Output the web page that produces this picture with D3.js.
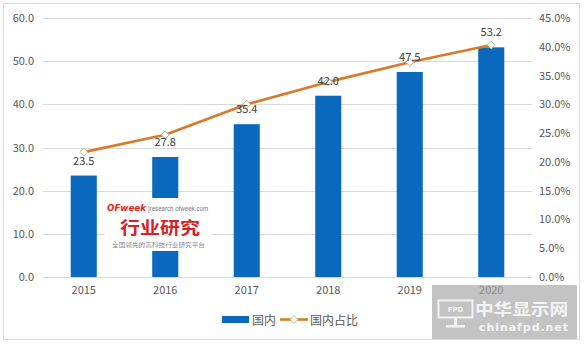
<!DOCTYPE html>
<html><head><meta charset="utf-8">
<script src="https://cdn.jsdelivr.net/npm/d3@7"></script>
<style>
html,body{margin:0;padding:0;background:#fff;}
svg{display:block;font-family:"Noto Sans CJK SC","Noto Sans",sans-serif;}
</style></head>
<body><svg id="c" width="584" height="345"></svg>
<script>
const years = ["2015","2016","2017","2018","2019","2020"];
const domestic = [23.5, 27.8, 35.4, 42.0, 47.5, 53.2];
const domesticShare = [0.217, 0.247, 0.300, 0.339, 0.373, 0.403];
const leftTicks = [0, 10, 20, 30, 40, 50, 60];
const rightTicks = [0, 0.05, 0.10, 0.15, 0.20, 0.25, 0.30, 0.35, 0.40, 0.45];
const seriesNames = ["国内", "国内占比"];

const svg = d3.select("#c");
const W = 584, H = 345;
const plot = {l: 43, r: 532, t: 18, b: 277};
const barColor = "#0b69bd", lineColor = "#d97a28", textColor = "#595959", gridColor = "#d9d9d9";

svg.append("rect").attr("x",0).attr("y",0).attr("width",W).attr("height",H).attr("fill","#fff");
svg.append("rect").attr("x",3.5).attr("y",3.5).attr("width",576).attr("height",336)
  .attr("fill","none").attr("stroke","#d9d9d9");

const x = d3.scaleBand().domain(years).range([plot.l, plot.r]).paddingInner(0.68).paddingOuter(0.34);
const y = d3.scaleLinear().domain([0,60]).range([plot.b, plot.t]);
const y2 = d3.scaleLinear().domain([0,0.45]).range([plot.b, plot.t]);

// gridlines
svg.append("g").selectAll("line").data(leftTicks).join("line")
  .attr("x1",plot.l).attr("x2",plot.r)
  .attr("y1",d=>Math.round(y(d))+0.5).attr("y2",d=>Math.round(y(d))+0.5)
  .attr("stroke",gridColor).attr("stroke-width",1);

// left axis
const la = svg.append("g").attr("transform",`translate(${plot.l},0)`)
  .call(d3.axisLeft(y).tickValues(leftTicks).tickFormat(d3.format(".1f")).tickSize(0).tickPadding(9));
la.select(".domain").remove();
la.selectAll("text").attr("fill",textColor).style("font-size","11px").style("font-family","'Noto Sans CJK SC',sans-serif");

// right axis
const ra = svg.append("g").attr("transform",`translate(${plot.r},0)`)
  .call(d3.axisRight(y2).tickValues(rightTicks).tickFormat(d3.format(".1%")).tickSize(0).tickPadding(7));
ra.select(".domain").remove();
ra.selectAll("text").attr("fill",textColor).style("font-size","11px").style("font-family","'Noto Sans CJK SC',sans-serif");

// x axis
const xa = svg.append("g").attr("transform",`translate(0,${plot.b})`)
  .call(d3.axisBottom(x).tickSize(0).tickPadding(9));
xa.select(".domain").remove();
xa.selectAll("text").attr("fill",textColor).style("font-size","11px").style("font-family","'Noto Sans CJK SC',sans-serif");

// bars
svg.append("g").selectAll("rect").data(years).join("rect")
  .attr("x",d=>x(d)).attr("width",x.bandwidth())
  .attr("y",(d,i)=>y(domestic[i])).attr("height",(d,i)=>y(0)-y(domestic[i]))
  .attr("fill",barColor);

// line
const line = d3.line().x((d,i)=>x(years[i])+x.bandwidth()/2).y(d=>y2(d));
svg.append("path").datum(domesticShare).attr("d",line)
  .attr("fill","none").attr("stroke",lineColor).attr("stroke-width",2.6).attr("stroke-linejoin","round");

const diamond = d3.symbol().type(d3.symbolDiamond2).size(40);
svg.append("g").selectAll("path").data(domesticShare).join("path")
  .attr("d",diamond)
  .attr("transform",(d,i)=>`translate(${x(years[i])+x.bandwidth()/2},${y2(d)})`)
  .attr("fill","#fff").attr("stroke","#b7b98a").attr("stroke-width",1);

// bar labels
svg.append("g").selectAll("text").data(domestic).join("text")
  .attr("x",(d,i)=>x(years[i])+x.bandwidth()/2)
  .attr("y",d=>y(d)-11)
  .attr("text-anchor","middle").attr("fill","#404040").style("font-size","11px")
  .text(d=>d3.format(".1f")(d));

// legend
const lg = svg.append("g");
lg.append("rect").attr("x",222).attr("y",316).attr("width",27).attr("height",7).attr("fill",barColor);
lg.append("text").attr("x",252).attr("y",324.5).attr("fill",textColor).style("font-size","12px").text(seriesNames[0]);
lg.append("line").attr("x1",280).attr("x2",308).attr("y1",319.5).attr("y2",319.5).attr("stroke",lineColor).attr("stroke-width",2.6);
lg.append("path").attr("d",diamond).attr("transform","translate(294,319.5)").attr("fill","#fff").attr("stroke","#b7b98a");
lg.append("text").attr("x",310).attr("y",324.5).attr("fill",textColor).style("font-size","12px").text(seriesNames[1]);

// OFweek watermark
const wm = svg.append("g");
wm.append("rect").attr("x",105).attr("y",198).attr("width",108).attr("height",53).attr("fill","#fff");
wm.append("text").attr("x",107).attr("y",211).attr("fill","#e2231a").style("font-size","9.5px")
  .attr("textLength",39).attr("lengthAdjust","spacingAndGlyphs")
  .style("font-weight","bold").style("font-style","italic").style("font-family","'DejaVu Sans',sans-serif").text("OFweek");
wm.append("text").attr("x",148).attr("y",211).attr("fill","#777").style("font-size","6.5px")
  .attr("textLength",60).attr("lengthAdjust","spacingAndGlyphs")
  .style("font-family","'Liberation Sans',sans-serif").text("|research.ofweek.com");
wm.append("text").attr("x",120).attr("y",234).attr("fill","#d91f26")
  .attr("textLength",80).attr("lengthAdjust","spacingAndGlyphs")
  .style("font-size","17px").style("font-weight","bold").text("行业研究");
wm.append("text").attr("x",112).attr("y",247).attr("fill","#888")
  .attr("textLength",93).attr("lengthAdjust","spacingAndGlyphs")
  .style("font-size","6px").text("全国领先的高科技行业研究平台");

// chinafpd watermark
const wm2 = svg.append("g");
wm2.append("rect").attr("x",432).attr("y",285).attr("width",145).attr("height",54).attr("fill","#a3a3a3").attr("opacity",0.65);
wm2.append("rect").attr("x",438.5).attr("y",300.5).attr("width",34).attr("height",17).attr("fill","none").attr("stroke","#f2f2f2").attr("stroke-width",2);
wm2.append("text").attr("x",455.5).attr("y",312).attr("text-anchor","middle").attr("fill","#f2f2f2")
  .style("font-size","7px").style("font-weight","bold").style("font-family","'DejaVu Sans',sans-serif").text("FPD");
wm2.append("rect").attr("x",454).attr("y",318).attr("width",3).attr("height",7).attr("fill","#f2f2f2");
wm2.append("rect").attr("x",446).attr("y",325).attr("width",19).attr("height",2.5).attr("fill","#f2f2f2");
wm2.append("text").attr("x",475).attr("y",315).attr("fill","#f4f4f4")
  .attr("textLength",93).attr("lengthAdjust","spacingAndGlyphs")
  .style("font-size","16px").style("font-weight","bold").text("中华显示网");
wm2.append("text").attr("x",479).attr("y",331).attr("fill","#f4f4f4")
  .attr("textLength",89).attr("lengthAdjust","spacing")
  .style("font-size","11px").style("font-weight","bold")
  .style("font-family","'DejaVu Sans',sans-serif").text("chinafpd.net");
</script></body></html>
